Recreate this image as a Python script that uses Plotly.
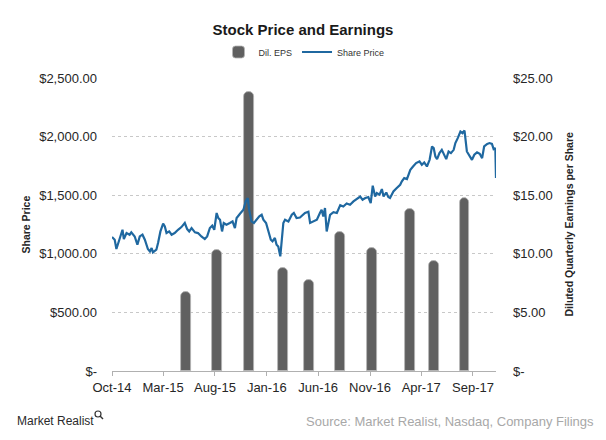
import plotly.graph_objects as go

# ---- Data ----
price_dates = [
    "2014-10-01", "2014-10-09", "2014-10-14", "2014-10-21", "2014-10-26", "2014-11-01", "2014-11-05",
    "2014-11-13", "2014-11-22", "2014-11-27", "2014-12-07", "2014-12-15", "2014-12-22", "2014-12-30",
    "2015-01-06", "2015-01-15", "2015-01-21", "2015-01-26", "2015-01-30", "2015-02-09", "2015-02-14",
    "2015-02-21", "2015-03-01", "2015-03-06", "2015-03-11", "2015-03-19", "2015-03-26", "2015-04-04",
    "2015-04-14", "2015-04-24", "2015-05-04", "2015-05-11", "2015-05-17", "2015-05-24", "2015-06-03",
    "2015-06-12", "2015-06-22", "2015-07-02", "2015-07-09", "2015-07-17", "2015-07-24", "2015-07-30",
    "2015-08-06", "2015-08-11", "2015-08-16", "2015-08-22", "2015-08-27", "2015-09-04", "2015-09-14",
    "2015-09-22", "2015-09-29", "2015-10-04", "2015-10-14", "2015-10-24", "2015-10-31", "2015-11-06",
    "2015-11-10", "2015-11-17", "2015-11-24", "2015-12-02", "2015-12-10", "2015-12-17", "2015-12-22",
    "2015-12-30", "2016-01-05", "2016-01-13", "2016-01-18", "2016-01-25", "2016-01-30", "2016-02-04",
    "2016-02-10", "2016-02-14", "2016-02-19", "2016-02-24", "2016-03-05", "2016-03-15", "2016-03-21",
    "2016-03-29", "2016-04-08", "2016-04-23", "2016-05-03", "2016-05-08", "2016-05-18", "2016-05-28",
    "2016-06-06", "2016-06-11", "2016-06-16", "2016-06-21", "2016-06-26", "2016-07-06", "2016-07-16",
    "2016-07-26", "2016-08-05", "2016-08-14", "2016-08-24", "2016-09-03", "2016-09-13", "2016-09-23",
    "2016-10-03", "2016-10-10", "2016-10-18", "2016-10-27", "2016-11-03", "2016-11-09", "2016-11-16",
    "2016-11-21", "2016-11-29", "2016-12-06", "2016-12-11", "2016-12-19", "2016-12-25", "2016-12-30",
    "2017-01-09", "2017-01-19", "2017-01-29", "2017-02-03", "2017-02-10", "2017-02-18", "2017-02-28",
    "2017-03-08", "2017-03-17", "2017-03-27", "2017-04-03", "2017-04-10", "2017-04-18", "2017-04-26",
    "2017-05-03", "2017-05-08", "2017-05-13", "2017-05-18", "2017-05-25", "2017-06-01", "2017-06-08",
    "2017-06-14", "2017-06-21", "2017-06-28", "2017-07-06", "2017-07-11", "2017-07-18", "2017-07-26",
    "2017-08-01", "2017-08-07", "2017-08-14", "2017-08-22", "2017-08-29", "2017-09-05", "2017-09-13",
    "2017-09-21", "2017-09-28", "2017-10-04", "2017-10-13", "2017-10-20", "2017-10-27", "2017-11-01",
    "2017-11-06", "2017-11-08",
]
share_price = [
    1143, 1120, 1041, 1106, 1148, 1205, 1126,
    1177, 1163, 1183, 1148, 1078, 1148, 1163,
    1120, 1041, 1020, 1049, 1012, 1035, 1092,
    1191, 1257, 1234, 1177, 1191, 1163, 1177,
    1205, 1228, 1263, 1211, 1191, 1220, 1183,
    1177, 1148, 1126, 1148, 1220, 1240, 1205,
    1348, 1305, 1291, 1191, 1263, 1248, 1263,
    1276, 1220, 1305, 1342, 1376, 1447, 1476,
    1376, 1276, 1263, 1291, 1319, 1333, 1291,
    1263, 1191, 1120, 1106, 1135, 1078, 1063,
    978, 1120, 1263, 1291, 1276, 1333, 1348,
    1305, 1310, 1348, 1359, 1263, 1276, 1291,
    1348, 1376, 1319, 1390, 1191, 1333, 1355,
    1348, 1415, 1404, 1430, 1419, 1447, 1467,
    1489, 1461, 1476, 1484, 1433, 1581, 1489,
    1518, 1504, 1552, 1489, 1523, 1484, 1476,
    1532, 1561, 1589, 1618, 1646, 1638, 1717,
    1745, 1774, 1788, 1760, 1779, 1745, 1802,
    1916, 1902, 1830, 1808, 1859, 1887, 1845,
    1808, 1873, 1859, 1887, 1945, 1987, 2043,
    2029, 2052, 1873, 1830, 1802, 1845, 1865,
    1853, 1816, 1916, 1938, 1945, 1938, 1893,
    1902, 1646,
]

eps_dates = ["2015-05-07", "2015-08-07", "2015-11-09", "2016-02-19", "2016-05-05",
             "2016-08-05", "2016-11-07", "2017-02-27", "2017-05-09", "2017-08-07"]
dil_eps = [6.7, 10.3, 23.8, 8.8, 7.8, 11.9, 10.5, 13.8, 9.4, 14.8]

x_tick_vals = ["2014-10-01", "2015-03-01", "2015-08-01", "2016-01-01",
               "2016-06-01", "2016-11-01", "2017-04-01", "2017-09-01"]
x_tick_text = ["Oct-14", "Mar-15", "Aug-15", "Jan-16", "Jun-16", "Nov-16", "Apr-17", "Sep-17"]

price_ticks = [0, 500, 1000, 1500, 2000, 2500]
price_tick_text = ["$-", "$500.00", "$1,000.00", "$1,500.00", "$2,000.00", "$2,500.00"]
eps_ticks = [0, 5, 10, 15, 20, 25]
eps_tick_text = ["$-", "$5.00", "$10.00", "$15.00", "$20.00", "$25.00"]

FONT = "Liberation Sans, Arial, sans-serif"
BAR_WIDTH_MS = 29 * 24 * 3600 * 1000

W, H = 606, 440
ML, MR, MT, MB = 112, 110, 78, 69
pw = W - ML - MR
ph = H - MT - MB


def px_x(x):
    return (x - ML) / pw


def px_y(y):
    return (H - MB - y) / ph


fig = go.Figure()
fig.add_trace(go.Bar(
    x=eps_dates, y=dil_eps, name="Dil. EPS", yaxis="y",
    width=[BAR_WIDTH_MS] * len(eps_dates),
    marker=dict(color="#606060", line=dict(color="#b5b5b5", width=0.8), cornerradius="50%"),
))
fig.add_trace(go.Scatter(
    x=price_dates, y=share_price, name="Share Price", yaxis="y2", mode="lines",
    line=dict(color="#1f68a0", width=2.2),
))

fig.update_layout(
    width=W, height=H,
    margin=dict(l=ML, r=MR, t=MT, b=MB),
    paper_bgcolor="white", plot_bgcolor="white",
    font=dict(family=FONT, color="#262626", size=13),
    title=dict(text="<b>Stock Price and Earnings</b>", x=0.5, xanchor="center",
               y=1 - 30 / H, yanchor="middle", font=dict(size=15, color="#1a1a1a")),
    showlegend=True,
    legend=dict(orientation="h", x=0.5, xanchor="center", y=px_y(52), yanchor="middle",
                font=dict(size=9, color="#333333"), itemwidth=30,
                traceorder="normal", bgcolor="rgba(0,0,0,0)"),
    bargap=0,
    xaxis=dict(
        type="date", range=["2014-10-01", "2017-11-08"],
        tickvals=x_tick_vals, ticktext=x_tick_text,
        showline=True, linecolor="#b0b0b0", linewidth=1,
        ticks="outside", ticklen=4, tickcolor="#b0b0b0",
        showgrid=False, zeroline=False, tickfont=dict(size=13, color="#262626"),
    ),
    yaxis=dict(
        side="right", range=[0, 25], tickvals=eps_ticks, ticktext=eps_tick_text,
        showgrid=True, gridcolor="#c8c8c8", griddash="dot", gridwidth=1,
        zeroline=False, showline=False, ticks="", ticklabelstandoff=16,
        tickfont=dict(size=13, color="#262626"),
    ),
    yaxis2=dict(
        side="left", overlaying="y", range=[0, 2500],
        tickvals=price_ticks, ticktext=price_tick_text,
        showgrid=False, zeroline=False, showline=False, ticks="", ticklabelstandoff=14,
        tickfont=dict(size=13, color="#262626"),
    ),
    annotations=[
        dict(text="<b>Share Price</b>", textangle=-90, x=px_x(25), y=0.5,
             xref="paper", yref="paper", xanchor="center", yanchor="middle",
             showarrow=False, font=dict(size=10.5, color="#262626")),
        dict(text="<b>Diluted Quarterly Earnings per Share</b>", textangle=-90,
             x=px_x(568), y=0.5, xref="paper", yref="paper", xanchor="center", yanchor="middle",
             showarrow=False, font=dict(size=10.5, color="#262626")),
        dict(text="Source: Market Realist, Nasdaq, Company Filings", x=px_x(596), y=px_y(421),
             xref="paper", yref="paper", showarrow=False, xanchor="right", yanchor="middle",
             font=dict(size=13, color="#a8a8a8")),
        dict(text="Market Realist", x=px_x(15), y=px_y(421), xref="paper", yref="paper",
             showarrow=False, xanchor="left", yanchor="middle",
             font=dict(size=12, color="#2a2a2a")),
    ],
)

# small magnifier mark next to "Market Realist"
mx, my = px_x(98), px_y(414)
fig.add_shape(type="circle", xref="paper", yref="paper",
              x0=mx - 3 / pw, x1=mx + 3 / pw, y0=my - 3 / ph, y1=my + 3 / ph,
              line=dict(color="#333333", width=1.2))
fig.add_shape(type="line", xref="paper", yref="paper",
              x0=mx + 2 / pw, y0=my - 2 / ph, x1=mx + 5 / pw, y1=my - 5 / ph,
              line=dict(color="#333333", width=1.4))

fig.write_html("out.html", config={"displayModeBar": False},
               post_script="document.body.style.margin='0';document.body.style.overflow='hidden';")
